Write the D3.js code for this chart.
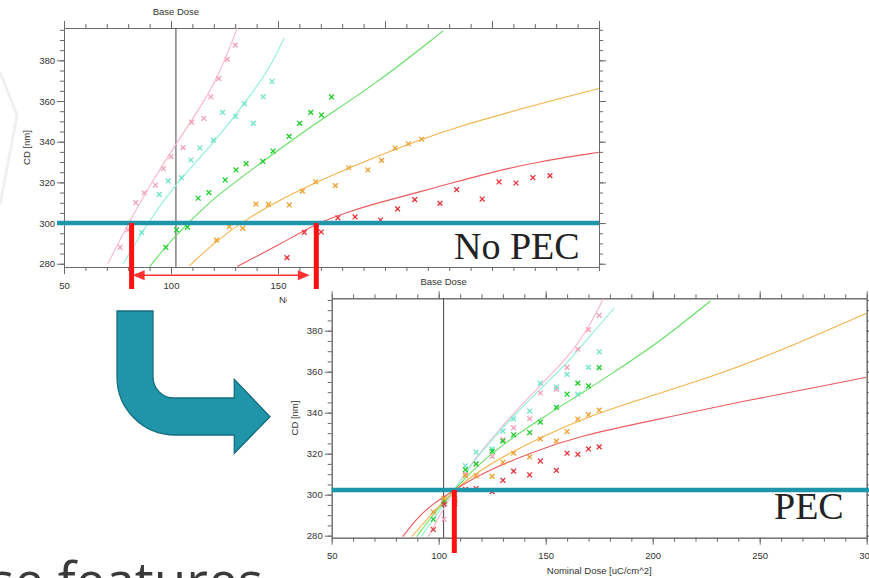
<!DOCTYPE html>
<html><head><meta charset="utf-8">
<script src="https://cdn.jsdelivr.net/npm/d3@7"></script>
<style>
html,body{margin:0;padding:0;background:#fff;overflow:hidden}
svg{display:block}
text{font-family:"Liberation Sans",Arial,sans-serif}
</style></head><body>
<svg id="c" width="869" height="578"></svg>
<script>
// ---------------- DATA ----------------
const seriesNames = ["pink","cyan","green","orange","red"];
const xTicksMajor = [50,100,150,200,250,300];
const yTicksMajor = [280,300,320,340,360,380];
const baseDose = 102.3;
const targetNoPEC = 300, targetPEC = 302.3;
const annotNoPEC = [81.6, 167.9];   // doses marked by the red bars (No PEC)
const annotPEC = 107.3;             // dose marked by the red bar (PEC)

// nominal doses (PEC chart x)
const doseNominal = [97.5,102.5,107.5,112.5,117.5,125,130,135,142.5,147.5,155,160,165,170,175];
// measured CD per series (same in both charts)
const pinkCD   = [null,288,296.6,310,314.9,318.7,326.8,332.7,337.1,349.6,351.4,362.1,371,380.5,387.5];
const cyanCD   = [null,295.4,null,314.1,320.7,322.3,331,337,340.8,354.4,352.5,358.7,349,362.1,369.7];
const greenCD  = [288,296.6,298,312.2,315,321.2,326.1,329.2,330.3,335.4,342.6,349,354.4,353.1,362];
const orangeCD = [291.6,298.2,297.4,309.3,309.2,308.9,315.7,320.3,318.4,327.2,326.1,330.8,336.9,339,341.2];
const redCD    = [283,295.4,295.6,302.6,303,301.5,307,311.5,309.7,316.4,311.8,320.2,319.7,322.3,323.3];
// doses as plotted in the No PEC chart
const pinkDoseNo   = [null,76.2,79.9,83.5,87.5,92.7,96.5,100,105.6,109.6,115.3,118.6,122.3,126.3,130];
const cyanDoseNo   = [null,86.3,null,94.5,98.7,104.9,109.3,113.5,119.8,124.1,130.2,134.3,138.5,143.1,147.2];
const greenDoseNo  = [97.6,102.6,107.7,112.7,117.7,125.3,130.4,135.1,142.9,147.7,155.2,160.1,165.3,170.3,175];
const orangeDoseNo = [121.3,127.2,133.5,139.7,145.6,155.3,161.4,167.6,176.8,183,192,198.4,204.7,210.9,217.1];
const redDoseNo    = [154.2,162.3,170.2,178,186,197.9,205.9,213.9,225.7,233.5,245.4,253.3,261.2,269.1,277.1];

// fitted curves, No PEC chart [dose, CD]
const pinkFitNo   = [[70.5,280],[80.4,300.5],[90.2,318.7],[102.5,339.2],[115,358.9],[122.5,373],[131,396]];
const cyanFitNo   = [[77.7,280],[88.9,300],[102.3,319.5],[120.5,340],[136,361],[147,377.7],[152.9,391]];
const greenFitNo  = [[90,278.5],[98,289.2],[108,300],[120.6,313],[143.9,331],[167.3,349],[195.3,368],[227.3,394.6]];
const orangeFitNo = [[108.6,279],[120.6,290.8],[135.4,302.3],[157.9,315.4],[182.9,326.9],[196,332.5],[228.8,346.6],[300,366.2]];
const redFitNo    = [[131,278.7],[151.7,290],[167.3,299.5],[182.9,305.5],[195,309.5],[224,317.5],[246,324],[271,330.2],[300,334.8]];
// fitted curves, PEC chart [dose, CD]
const pinkFitP   = [[95,279.5],[107,302],[117.3,318.5],[129.9,333.5],[142.7,348.5],[159.8,366],[169.9,381],[177,395.8]];
const cyanFitP   = [[91.8,279.5],[107,302],[117.3,318],[129.9,332.5],[142.7,347],[158.2,362],[169.5,376],[182,391]];
const greenFitP  = [[89.7,279.5],[98,291],[107,302],[117.3,313.5],[129.9,324.5],[147.5,337],[170.7,352],[180,358.5],[203.4,374.6],[227,394.5]];
const orangeFitP = [[87.4,279.5],[97,291],[107,302],[117.3,310.5],[130,318.5],[147.5,328],[170.7,338.5],[197,347.5],[228,357.6],[259.5,370],[300,388.5]];
const redFitP    = [[83.2,279.5],[89.7,288.5],[97.5,295.8],[107,302],[119.3,310],[142.7,320.5],[166,328.8],[205,337.3],[244,346],[275,352],[300,357.3]];

const lineColors = {pink:"#f8b6c6",cyan:"#8eefd9",green:"#62e062",orange:"#f5b24a",red:"#ee5a5e"};
const markColors = {pink:"#f2a0b6",cyan:"#6fe4cc",green:"#1ccc28",orange:"#efa030",red:"#e6303a"};

const cds = {pink:pinkCD,cyan:cyanCD,green:greenCD,orange:orangeCD,red:redCD};
const dosesNo = {pink:pinkDoseNo,cyan:cyanDoseNo,green:greenDoseNo,orange:orangeDoseNo,red:redDoseNo};
const fitsNo = {pink:pinkFitNo,cyan:cyanFitNo,green:greenFitNo,orange:orangeFitNo,red:redFitNo};
const fitsP = {pink:pinkFitP,cyan:cyanFitP,green:greenFitP,orange:orangeFitP,red:redFitP};

// ---------------- DRAW ----------------
const svg = d3.select("#c");
const defs = svg.append("defs");
const TEAL = "#1f95a9";

function drawChart(box, yDom, getDoses, fits, id) {
  const x = d3.scaleLinear().domain([50,300]).range([box.l, box.r]);
  const y = d3.scaleLinear().domain(yDom).range([box.b, box.t]);
  const g = svg.append("g");
  defs.append("clipPath").attr("id", id).append("rect")
    .attr("x", box.l).attr("y", box.t).attr("width", box.r-box.l).attr("height", box.b-box.t);

  const xMinor = d3.range(50,301,10), yMinor = d3.range(280,396,5);
  const styleAxis = (sel) => {
    sel.selectAll("path.domain").attr("stroke","#6a6a6a");
    sel.selectAll(".tick line").attr("stroke","#6a6a6a");
    sel.selectAll("text").attr("fill","#333").style("font-size","9.5px").style("font-family","'Liberation Sans',Arial,sans-serif");
  };
  g.append("g").attr("transform",`translate(0,${box.t})`).call(d3.axisTop(x).tickValues(xMinor).tickSize(4).tickSizeOuter(0).tickFormat("")).call(styleAxis);
  g.append("g").attr("transform",`translate(0,${box.b})`).call(d3.axisBottom(x).tickValues(xMinor).tickSize(4).tickSizeOuter(0).tickFormat("")).call(styleAxis);
  g.append("g").attr("transform",`translate(${box.l},0)`).call(d3.axisLeft(y).tickValues(yMinor).tickSize(4).tickSizeOuter(0).tickFormat("")).call(styleAxis);
  g.append("g").attr("transform",`translate(${box.r},0)`).call(d3.axisRight(y).tickValues(yMinor).tickSize(4).tickSizeOuter(0).tickFormat("")).call(styleAxis);
  g.append("g").attr("transform",`translate(0,${box.t})`).call(d3.axisTop(x).tickValues(xTicksMajor).tickSize(7).tickSizeOuter(0).tickFormat("")).call(styleAxis);
  g.append("g").attr("transform",`translate(0,${box.b})`).call(d3.axisBottom(x).tickValues(xTicksMajor).tickSize(7).tickPadding(8).tickSizeOuter(0).tickFormat(d3.format("d"))).call(styleAxis);
  g.append("g").attr("transform",`translate(${box.l},0)`).call(d3.axisLeft(y).tickValues(yTicksMajor).tickSize(7).tickPadding(2).tickSizeOuter(0).tickFormat(d3.format("d"))).call(styleAxis);
  g.append("g").attr("transform",`translate(${box.r},0)`).call(d3.axisRight(y).tickValues(yTicksMajor).tickSize(7).tickSizeOuter(0).tickFormat("")).call(styleAxis);

  g.append("line").attr("x1",x(baseDose)).attr("x2",x(baseDose)).attr("y1",box.t).attr("y2",box.b)
    .attr("stroke","#444").attr("stroke-width",1);
  g.append("text").attr("x",x(baseDose)).attr("y",box.t-13).attr("text-anchor","middle")
    .style("font-size","9.5px").attr("fill","#333").text("Base Dose");
  g.append("text").attr("transform",`translate(${box.l-34},${(box.t+box.b)/2}) rotate(-90)`)
    .attr("text-anchor","middle").style("font-size","9.5px").attr("fill","#333").text("CD [nm]");
  g.append("text").attr("x",(box.l+box.r)/2).attr("y",box.b+36).attr("text-anchor","middle")
    .style("font-size","9.5px").attr("fill","#333").text("Nominal Dose [uC/cm^2]");

  const pg = g.append("g").attr("clip-path",`url(#${id})`);
  const line = d3.line().x(d=>x(d[0])).y(d=>y(d[1])).curve(d3.curveBasis);
  seriesNames.forEach(s => {
    pg.append("path").attr("d", line(fits[s])).attr("fill","none")
      .attr("stroke", lineColors[s]).attr("stroke-width",1.1);
  });
  seriesNames.forEach(s => {
    const ds = getDoses(s);
    const pts = cds[s].map((c,i)=>[ds[i], c]).filter(p => p[0]!=null && p[1]!=null);
    pg.selectAll(null).data(pts).enter().append("path")
      .attr("transform", d=>`translate(${x(d[0])},${y(d[1])})`)
      .attr("d","M-2.4,-2.4L2.4,2.4M-2.4,2.4L2.4,-2.4")
      .attr("stroke", markColors[s]).attr("stroke-width",1.3).attr("fill","none");
  });
  return {x, y, g};
}

svg.append("path").attr("d","M0,72 L17,115 L0,205").attr("fill","none").attr("stroke","#f0f0f0").attr("stroke-width",3);

// ----- top chart (No PEC) -----
const topBox = {l:64, r:599, t:28, b:267};
const chartA = drawChart(topBox, [278.4,395.9], s => dosesNo[s], fitsNo, "clipTop");
chartA.g.append("line").attr("x1",57).attr("x2",topBox.r).attr("y1",chartA.y(targetNoPEC)).attr("y2",chartA.y(targetNoPEC))
  .attr("stroke",TEAL).attr("stroke-width",4.6);
chartA.g.append("text").attr("x",454).attr("y",259).style("font-family","'Liberation Serif','Times New Roman',serif")
  .style("font-size","38px").attr("fill","#222").text("No PEC");

svg.append("path")
  .attr("d","M117,311 L153,311 L153,377 A21,21 0 0 0 174,398 L234.3,398 L234.3,379.3 L270,416.7 L234.3,453.3 L234.3,435 L175,435 A58,58 0 0 1 117,377 Z")
  .attr("fill","#2094a9").attr("stroke","#156e7e").attr("stroke-width",1.3);

svg.append("text").attr("x",-11).attr("y",600).style("font-family","'Open Sans','Noto Sans',sans-serif")
  .style("font-size","53px").attr("fill","#3a3a3a").text("se features");

// ----- bottom chart (PEC) -----
svg.append("rect").attr("x",287).attr("y",271).attr("width",582).attr("height",307).attr("fill","#fff");
const botBox = {l:331.7, r:866.7, t:298.3, b:537.7};
const chartB = drawChart(botBox, [279.0,395.8], s => doseNominal, fitsP, "clipBot");
chartB.g.append("line").attr("x1",botBox.l).attr("x2",869).attr("y1",chartB.y(targetPEC)).attr("y2",chartB.y(targetPEC))
  .attr("stroke",TEAL).attr("stroke-width",4.6);
chartB.g.append("text").attr("x",774).attr("y",519).style("font-family","'Liberation Serif','Times New Roman',serif")
  .style("font-size","38px").attr("fill","#222").text("PEC");

// ----- red annotations -----
const RED = "#ff1010";
annotNoPEC.forEach(d => {
  svg.append("rect").attr("x",chartA.x(d)-2.5).attr("y",chartA.y(targetNoPEC)).attr("width",5).attr("height",289-chartA.y(targetNoPEC)).attr("fill",RED);
});
const ax1 = chartA.x(annotNoPEC[0])+1, ax2 = chartA.x(annotNoPEC[1])-6.5, ay = 275.3;
svg.append("line").attr("x1",ax1+10).attr("x2",ax2-10).attr("y1",ay).attr("y2",ay).attr("stroke","#ff3030").attr("stroke-width",1.4);
svg.append("path").attr("d",`M${ax1},${ay} L${ax1+12},${ay-5} L${ax1+12},${ay+5} Z`).attr("fill","#ff3030");
svg.append("path").attr("d",`M${ax2},${ay} L${ax2-12},${ay-5} L${ax2-12},${ay+5} Z`).attr("fill","#ff3030");
svg.append("rect").attr("x",chartB.x(annotPEC)-2.5).attr("y",chartB.y(targetPEC)).attr("width",5).attr("height",553-chartB.y(targetPEC)).attr("fill",RED);
</script></body></html>
